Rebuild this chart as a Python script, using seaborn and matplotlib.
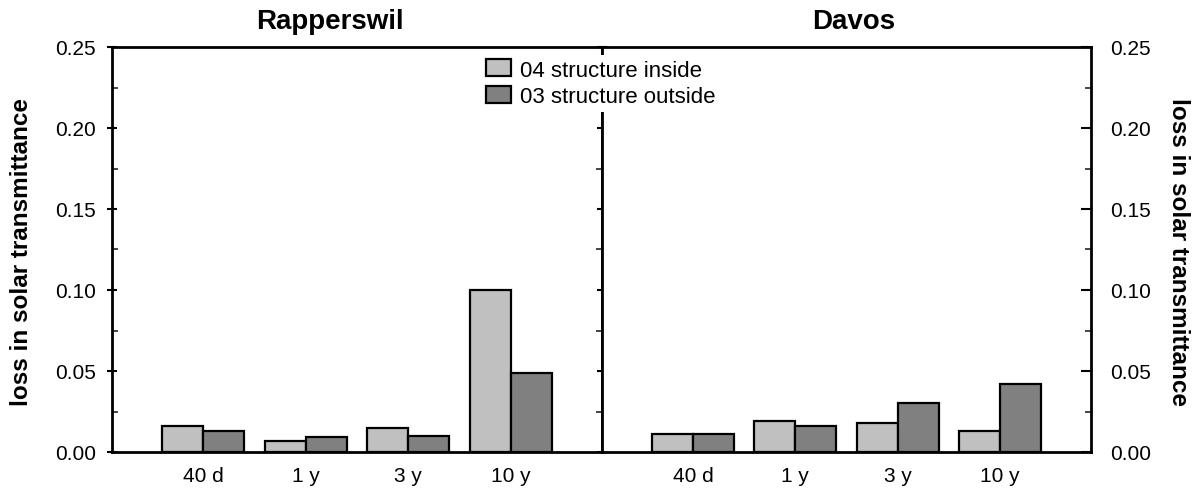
import matplotlib
matplotlib.use("Agg")
import matplotlib.pyplot as plt
import seaborn as sns
import pandas as pd
from matplotlib.ticker import MultipleLocator, FormatStrFormatter
from matplotlib.patches import Patch

sns.set_theme(style="white")
plt.rcParams['font.family'] = ['Liberation Sans', 'DejaVu Sans']
plt.rcParams['text.color'] = 'black'

categories = ["40 d", "1 y", "3 y", "10 y"]
series_names = ["04 structure inside", "03 structure outside"]
rapperswil_inside = [0.016, 0.007, 0.015, 0.100]
rapperswil_outside = [0.013, 0.009, 0.010, 0.049]
davos_inside = [0.011, 0.019, 0.018, 0.013]
davos_outside = [0.011, 0.016, 0.030, 0.042]
panel_titles = ["Rapperswil", "Davos"]
ylabel = "loss in solar transmittance"
colors = ["#c0c0c0", "#808080"]


def make_df(inside, outside):
    rows = []
    for c, v in zip(categories, inside):
        rows.append({"period": c, "series": series_names[0], "loss": v})
    for c, v in zip(categories, outside):
        rows.append({"period": c, "series": series_names[1], "loss": v})
    return pd.DataFrame(rows)


dfs = [make_df(rapperswil_inside, rapperswil_outside),
       make_df(davos_inside, davos_outside)]

fig = plt.figure(figsize=(11.97, 5.02), dpi=100)
W, H = 1197, 502
x0, xm, x1 = 112, 602, 1091
ytop, ybot = 48, 453
axL = fig.add_axes([x0 / W, 1 - ybot / H, (xm - x0) / W, (ybot - ytop) / H])
axR = fig.add_axes([xm / W, 1 - ybot / H, (x1 - xm) / W, (ybot - ytop) / H])

for ax, df in zip([axL, axR], dfs):
    sns.barplot(data=df, x="period", y="loss", hue="series", order=categories,
                hue_order=series_names, palette=colors, width=0.8,
                edgecolor="black", linewidth=1.6, saturation=1, ax=ax,
                legend=False)
    ax.set_xlim(-0.89, 3.89)
    ax.set_ylim(0, 0.25)
    ax.set_xlabel("")
    ax.set_ylabel("")
    ax.yaxis.set_major_locator(MultipleLocator(0.05))
    ax.yaxis.set_minor_locator(MultipleLocator(0.025))
    ax.yaxis.set_major_formatter(FormatStrFormatter("%.2f"))
    for s in ax.spines.values():
        s.set_visible(True)
        s.set_color("black")
        s.set_linewidth(2)
    ax.tick_params(axis="x", length=0, labelsize=15, colors="black", pad=10)
    ax.set_facecolor("white")

# left panel: ticks on both sides, labels left
axL.tick_params(axis="y", which="major", left=True, right=True, direction="inout",
                length=7, width=1.5, labelsize=15, colors="black", pad=8)
axL.tick_params(axis="y", which="minor", left=True, right=True, direction="in",
                length=4, width=1.2)
# right panel: ticks/labels on right
axR.yaxis.tick_right()
axR.tick_params(axis="y", which="major", left=False, right=True, labelleft=False,
                labelright=True, direction="in", length=7, width=1.5,
                labelsize=15, colors="black", pad=14)
axR.tick_params(axis="y", which="minor", left=False, right=True, direction="in",
                length=4, width=1.2)

fig.text(330 / W, 1 - 22 / H, panel_titles[0], ha="center", va="center",
         fontsize=20, fontweight="bold", color="black")
fig.text(854 / W, 1 - 22 / H, panel_titles[1], ha="center", va="center",
         fontsize=20, fontweight="bold", color="black")

fig.text(22 / W, 1 - 252 / H, ylabel, rotation=90, ha="center", va="center",
         fontsize=17.5, fontweight="bold", color="black")
fig.text(1178 / W, 1 - 252 / H, ylabel, rotation=270, ha="center", va="center",
         fontsize=17.5, fontweight="bold", color="black")

handles = [Patch(facecolor=colors[0], edgecolor="black", linewidth=1.6),
           Patch(facecolor=colors[1], edgecolor="black", linewidth=1.6)]
leg = fig.legend(handles, series_names, loc="upper left",
                 bbox_to_anchor=(482 / W, 1 - 56 / H), frameon=True,
                 fontsize=16, handlelength=1.1, handleheight=0.8,
                 handletextpad=0.4, labelspacing=0.25, borderpad=0.2,
                 borderaxespad=0, labelcolor="black")
leg.get_frame().set_edgecolor("none")
leg.get_frame().set_facecolor("white")
leg.get_frame().set_alpha(1)

fig.savefig("out.png", dpi=100, facecolor="white")
